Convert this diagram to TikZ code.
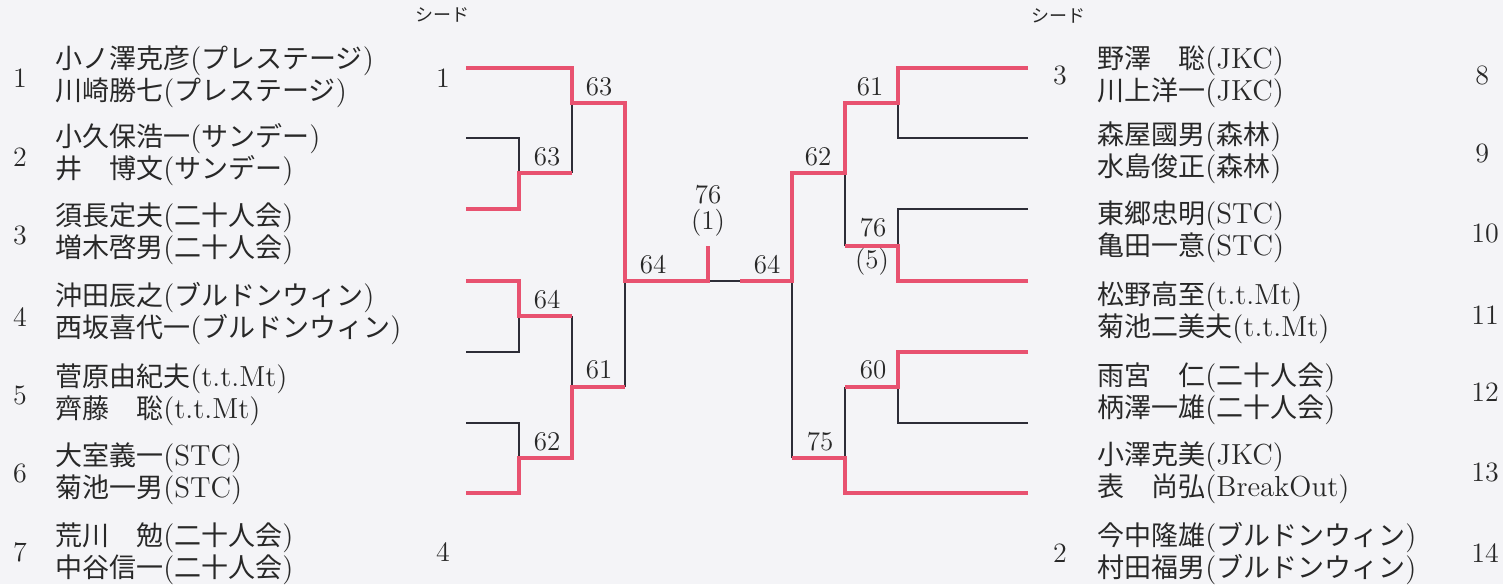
\documentclass[tikz,border=0pt]{standalone}
\usepackage{fontspec}
\newfontfamily\cjk{Noto Sans CJK JP}
\newcommand\jp[1]{{\cjk\fontsize{13.5}{16}\selectfont #1}}
\definecolor{bg}{RGB}{244,244,247}
\definecolor{win}{RGB}{232,82,112}
\definecolor{lose}{RGB}{45,45,55}
\definecolor{ink}{RGB}{40,40,40}
\begin{document}
\begin{tikzpicture}[x=0.5pt,y=-0.5pt,
  winline/.style={draw=win,line width=2pt},
  loseline/.style={draw=lose,line width=0.9pt},
  namebox/.style={anchor=west,inner sep=0pt,align=left,text=ink,font=\fontsize{14.5}{16}\selectfont},
  numlabel/.style={inner sep=0pt,text=ink,font=\fontsize{14}{15}\selectfont},
  score/.style={inner sep=0pt,text=ink,font=\fontsize{13.5}{14.5}\selectfont},
  seedlabel/.style={inner sep=0pt,text=ink,font=\cjk\fontsize{9}{10}\selectfont}]
\fill[bg] (0,0) rectangle (1503,584);
\useasboundingbox (0,0) rectangle (1503,584);
% columns
\coordinate (cA) at (519,0);
\coordinate (cB) at (572,0);
\coordinate (cC) at (625,0);
\coordinate (cD) at (898,0);
\coordinate (cE) at (845,0);
\coordinate (cF) at (792,0);
% left leaves
\coordinate (l1) at (466,68);
\coordinate (l2) at (466,138);
\coordinate (l3) at (466,209);
\coordinate (l4) at (466,281);
\coordinate (l5) at (466,352);
\coordinate (l6) at (466,423);
\coordinate (l7) at (466,493);
% left match outputs
\coordinate (m23) at (572,173);
\coordinate (m45) at (572,316);
\coordinate (m67) at (572,458);
\coordinate (m1) at (625,103);
\coordinate (m2) at (625,387);
\coordinate (mL) at (708,281);
\coordinate (top) at (708,246);
\coordinate (mid) at (740,281);
% right leaves
\coordinate (r8) at (1028,68);
\coordinate (r9) at (1028,138);
\coordinate (r10) at (1028,209);
\coordinate (r11) at (1028,281);
\coordinate (r12) at (1028,352);
\coordinate (r13) at (1028,423);
\coordinate (r14) at (1028,493);
% right match outputs
\coordinate (s89) at (845,103);
\coordinate (s1011) at (845,246);
\coordinate (s1213) at (845,387);
\coordinate (s3) at (792,173);
\coordinate (s4) at (792,458);

% losing lines
\draw[loseline] (l2) -- (l2 -| cA) -- (m23 -| cA);
\draw[loseline] (l5) -- (l5 -| cA) -- (m45 -| cA);
\draw[loseline] (l6) -- (l6 -| cA) -- (m67 -| cA);
\draw[loseline] (m23) -- (m1 -| cB);
\draw[loseline] (m45) -- (m2 -| cB);
\draw[loseline] (m2) -- (mL -| cC);
\draw[loseline] (mL) -- (mid);
\draw[loseline] (r9) -- (r9 -| cD) -- (s89 -| cD);
\draw[loseline] (r10) -- (r10 -| cD) -- (s1011 -| cD);
\draw[loseline] (r13) -- (r13 -| cD) -- (s1213 -| cD);
\draw[loseline] (s1011) -- (s3 -| cE);
\draw[loseline] (s1213) -- (s4 -| cE);
\draw[loseline] (s4) -- (mid -| cF);

% winning lines
\draw[winline] (l1) -- (l1 -| cB) -- (m1 -| cB) -- (m1) -- (mL -| cC) -- (mL) -- (top);
\draw[winline] (l3) -- (l3 -| cA) -- (m23 -| cA) -- (m23);
\draw[winline] (l4) -- (l4 -| cA) -- (m45 -| cA) -- (m45);
\draw[winline] (l7) -- (l7 -| cA) -- (m67 -| cA) -- (m67) -- (m2 -| cB) -- (m2);
\draw[winline] (r8) -- (r8 -| cD) -- (s89 -| cD) -- (s89) -- (s3 -| cE) -- (s3) -- (mid -| cF) -- (mid);
\draw[winline] (r11) -- (r11 -| cD) -- (s1011 -| cD) -- (s1011);
\draw[winline] (r12) -- (r12 -| cD) -- (s1213 -| cD) -- (s1213);
\draw[winline] (r14) -- (r14 -| cE) -- (s4 -| cE) -- (s4);

% scores
\node[score] (sc1) at (599,87) {63};
\node[score] (sc2) at (547,157) {63};
\node[score] (sc3) at (547,300) {64};
\node[score] (sc4) at (599,370) {61};
\node[score] (sc5) at (547,442) {62};
\node[score] (sc6) at (653,265) {64};
\node[score] (sc7) at (708,195) {76};
\node[score] (sc8) at (708,223) {(1)};
\node[score] (sc9) at (767,265) {64};
\node[score] (sc10) at (818,157) {62};
\node[score] (sc11) at (870,87) {61};
\node[score] (sc12) at (873,228) {76};
\node[score] (sc13) at (872,262) {(5)};
\node[score] (sc14) at (873,370) {60};
\node[score] (sc15) at (820,442) {75};

% seed labels
\node[seedlabel] (seedL) at (442,15) {シード};
\node[seedlabel] (seedR) at (1058,16) {シード};
\node[numlabel] (sd1) at (443,78) {1};
\node[numlabel] (sd4) at (443,552) {4};
\node[numlabel] (sd3) at (1060,75) {3};
\node[numlabel] (sd2) at (1060,553) {2};

% left entry numbers
\node[numlabel] (e1) at (20,78) {1};
\node[numlabel] (e2) at (20,157) {2};
\node[numlabel] (e3) at (20,235) {3};
\node[numlabel] (e4) at (20,317) {4};
\node[numlabel] (e5) at (20,395) {5};
\node[numlabel] (e6) at (20,473) {6};
\node[numlabel] (e7) at (20,552) {7};
% right entry numbers
\node[numlabel,anchor=west] (e8) at (1475,75) {8};
\node[numlabel,anchor=west] (e9) at (1475,153) {9};
\node[numlabel,anchor=west] (e10) at (1471,233) {10};
\node[numlabel,anchor=west] (e11) at (1471,315) {11};
\node[numlabel,anchor=west] (e12) at (1471,392) {12};
\node[numlabel,anchor=west] (e13) at (1471,472) {13};
\node[numlabel,anchor=west] (e14) at (1471,553) {14};

% left names
\node[namebox] (n1) at (55,77) {\jp{小ノ澤克彦}(\jp{プレステージ})\\\jp{川崎勝七}(\jp{プレステージ})};
\node[namebox] (n2) at (55,155) {\jp{小久保浩一}(\jp{サンデー})\\\jp{井　博文}(\jp{サンデー})};
\node[namebox] (n3) at (55,234) {\jp{須長定夫}(\jp{二十人会})\\\jp{増木啓男}(\jp{二十人会})};
\node[namebox] (n4) at (55,314) {\jp{沖田辰之}(\jp{ブルドンウィン})\\\jp{西坂喜代一}(\jp{ブルドンウィン})};
\node[namebox] (n5) at (55,395) {\jp{菅原由紀夫}(t.t.Mt)\\\jp{齊藤　聡}(t.t.Mt)};
\node[namebox] (n6) at (55,474) {\jp{大室義一}(STC)\\\jp{菊池一男}(STC)};
\node[namebox] (n7) at (55,554) {\jp{荒川　勉}(\jp{二十人会})\\\jp{中谷信一}(\jp{二十人会})};
% right names
\node[namebox] (n8) at (1097,77) {\jp{野澤　聡}(JKC)\\\jp{川上洋一}(JKC)};
\node[namebox] (n9) at (1097,153) {\jp{森屋國男}(\jp{森林})\\\jp{水島俊正}(\jp{森林})};
\node[namebox] (n10) at (1097,232) {\jp{東郷忠明}(STC)\\\jp{亀田一意}(STC)};
\node[namebox] (n11) at (1097,313) {\jp{松野高至}(t.t.Mt)\\\jp{菊池二美夫}(t.t.Mt)};
\node[namebox] (n12) at (1097,394) {\jp{雨宮　仁}(\jp{二十人会})\\\jp{柄澤一雄}(\jp{二十人会})};
\node[namebox] (n13) at (1097,473) {\jp{小澤克美}(JKC)\\\jp{表　尚弘}(BreakOut)};
\node[namebox] (n14) at (1097,554) {\jp{今中隆雄}(\jp{ブルドンウィン})\\\jp{村田福男}(\jp{ブルドンウィン})};
\end{tikzpicture}
\end{document}
